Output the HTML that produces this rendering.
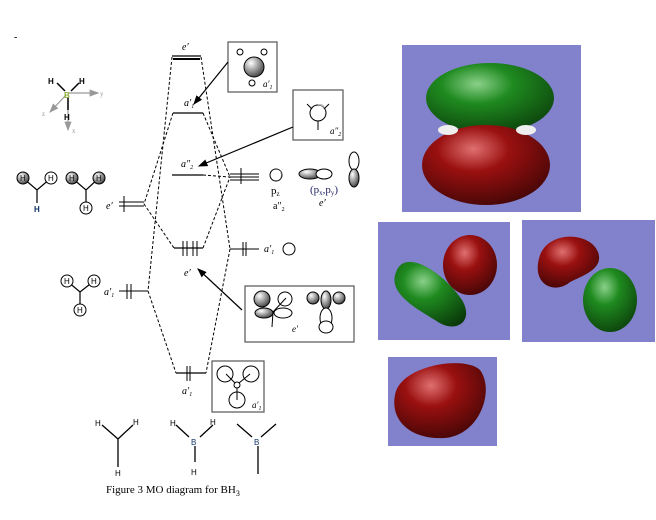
<!DOCTYPE html>
<html><head><style>
body{margin:0;background:#fff;}
svg{display:block;font-family:"Liberation Serif",serif;}
.s{font-family:"Liberation Sans",sans-serif;font-weight:bold;}
</style></head><body>
<svg width="656" height="520" viewBox="0 0 656 520" xmlns="http://www.w3.org/2000/svg">
<defs>
<radialGradient id="gr" cx="0.4" cy="0.3" r="0.8"><stop offset="0" stop-color="#8ad08a"/><stop offset="0.35" stop-color="#1f8a1f"/><stop offset="1" stop-color="#0a3a0a"/></radialGradient>
<radialGradient id="rd" cx="0.4" cy="0.3" r="0.8"><stop offset="0" stop-color="#e07070"/><stop offset="0.35" stop-color="#9a1010"/><stop offset="1" stop-color="#3a0505"/></radialGradient>
<radialGradient id="gy" cx="0.35" cy="0.3" r="0.8"><stop offset="0" stop-color="#fff"/><stop offset="0.5" stop-color="#999"/><stop offset="1" stop-color="#333"/></radialGradient>
<marker id="ar" markerWidth="8" markerHeight="6" refX="7" refY="3" orient="auto"><path d="M0,0L8,3L0,6z" fill="#000"/></marker>
<marker id="ag" markerWidth="8" markerHeight="6" refX="7" refY="3" orient="auto"><path d="M0,0L8,3L0,6z" fill="#999"/></marker>
</defs>
<text x="14" y="40" font-size="10">-</text>
<!-- axis molecule -->
<g stroke="#999" stroke-width="1.2" fill="none">
<line x1="68" y1="93" x2="98" y2="93" marker-end="url(#ag)"/>
<line x1="66" y1="95" x2="50" y2="112" marker-end="url(#ag)"/>
<line x1="68" y1="100" x2="68" y2="130" marker-end="url(#ag)"/>
</g>
<g stroke="#000" stroke-width="1.5"><line x1="57" y1="83" x2="65" y2="91"/><line x1="79" y1="83" x2="71" y2="91"/><line x1="68" y1="97" x2="68" y2="110"/></g>
<g class="s" font-size="8"><text x="48" y="84">H</text><text x="79" y="84">H</text><text x="64" y="98" fill="#8a3">B</text><text x="64" y="120">H</text></g>
<g font-size="7" fill="#999"><text x="100" y="96">y</text><text x="42" y="116">z</text><text x="72" y="133">x</text></g>
<!-- levels -->
<g stroke="#000" fill="none">
<line x1="172" y1="56" x2="201" y2="56" stroke-width="1.2"/><line x1="173" y1="59" x2="200" y2="59" stroke-width="2"/>
<line x1="173" y1="113" x2="203" y2="113" stroke-width="1.3"/>
<line x1="172" y1="175" x2="203" y2="175" stroke-width="1.3"/>
<line x1="174" y1="248" x2="203" y2="248" stroke-width="1.3"/>
<line x1="176" y1="373" x2="206" y2="373" stroke-width="1.3"/>
<line x1="230" y1="174" x2="259" y2="174"/><line x1="230" y1="177" x2="259" y2="177"/><line x1="230" y1="180" x2="259" y2="180"/>
<line x1="230" y1="249" x2="259" y2="249"/>
<line x1="119" y1="202" x2="144" y2="202"/><line x1="119" y1="206" x2="144" y2="206"/>
<line x1="119" y1="291" x2="148" y2="291"/>
<!-- electrons -->
<line x1="124" y1="196" x2="124" y2="212"/><line x1="183" y1="241" x2="183" y2="256"/><line x1="187" y1="241" x2="187" y2="256"/><line x1="193" y1="241" x2="193" y2="256"/><line x1="197" y1="241" x2="197" y2="256"/>
<line x1="127" y1="284" x2="127" y2="299"/><line x1="131" y1="284" x2="131" y2="299"/>
<line x1="187" y1="366" x2="187" y2="381"/><line x1="190" y1="366" x2="190" y2="381"/>
<line x1="243" y1="242" x2="243" y2="256"/><line x1="246" y1="242" x2="246" y2="256"/>
<line x1="241" y1="168" x2="241" y2="184"/>
</g>
<!-- dashed -->
<g stroke="#000" stroke-dasharray="3,2" fill="none">
<line x1="172" y1="57" x2="148" y2="291"/><line x1="173" y1="113" x2="144" y2="204"/>
<line x1="144" y1="204" x2="174" y2="248"/><line x1="148" y1="291" x2="176" y2="373"/>
<line x1="201" y1="57" x2="230" y2="249"/><line x1="203" y1="113" x2="230" y2="177"/>
<line x1="203" y1="175" x2="230" y2="177"/><line x1="203" y1="248" x2="230" y2="177"/>
<line x1="230" y1="249" x2="206" y2="373"/>
</g>
<!-- labels -->
<g font-size="10" font-style="italic">
<text x="182" y="50">e′</text><text x="184" y="106">a′<tspan font-size="6" dy="2">1</tspan></text>
<text x="181" y="167">a″<tspan font-size="6" dy="2">2</tspan></text>
<text x="184" y="276">e′</text><text x="182" y="394">a′<tspan font-size="6" dy="2">1</tspan></text>
<text x="106" y="209">e′</text><text x="104" y="295">a′<tspan font-size="6" dy="2">1</tspan></text>
<text x="264" y="252">a′<tspan font-size="6" dy="2">1</tspan></text>
<text x="273" y="209" font-style="normal">a″<tspan font-size="6" dy="2">2</tspan></text>
<text x="319" y="206">e′</text>
</g>
<text x="271" y="194" font-size="11">p<tspan font-size="7" dy="2">z</tspan></text>
<text x="310" y="193" font-size="11" fill="#226">(p<tspan font-size="7" dy="2">x</tspan><tspan dy="-2">,p</tspan><tspan font-size="7" dy="2">y</tspan><tspan dy="-2">)</tspan></text>
<!-- B orbitals -->
<circle cx="289" cy="249" r="6" fill="none" stroke="#000"/>
<circle cx="276" cy="175" r="6" fill="#fff" stroke="#000"/><path d="M276,169 a6,6 0 0,1 6,6 a6,6 0 0,1 -5,6 a4,6 0 0,0 0,-12z" fill="url(#gy)"/>
<ellipse cx="310" cy="174" rx="11" ry="5" fill="url(#gy)" stroke="#000"/><ellipse cx="324" cy="174" rx="8" ry="5" fill="#fff" stroke="#000"/>
<ellipse cx="354" cy="161" rx="5" ry="9" fill="#fff" stroke="#000"/><ellipse cx="354" cy="178" rx="5" ry="9" fill="url(#gy)" stroke="#000"/>
<!-- H3 fragments -->
<g stroke="#000" stroke-width="1.2" fill="none">
<path d="M23,178 L37,190 L51,178 M37,190 V203"/><path d="M72,178 L86,190 L99,178 M86,190 V205"/>
<path d="M67,281 L80,292 L94,281 M80,292 V309"/>
</g>
<circle cx="23" cy="178" r="6" fill="url(#gy)" stroke="#000"/><circle cx="51" cy="178" r="6" fill="#fff" stroke="#000"/>
<circle cx="72" cy="178" r="6" fill="url(#gy)" stroke="#000"/><circle cx="99" cy="178" r="6" fill="url(#gy)" stroke="#000"/><circle cx="86" cy="208" r="6" fill="#fff" stroke="#000"/>
<circle cx="67" cy="281" r="6" fill="#fff" stroke="#000"/><circle cx="94" cy="281" r="6" fill="#fff" stroke="#000"/><circle cx="80" cy="310" r="6" fill="#fff" stroke="#000"/>
<g font-family="Liberation Sans,sans-serif" font-size="8"><text x="20" y="181">H</text><text x="48" y="181">H</text><text x="69" y="181">H</text><text x="96" y="181">H</text><text x="83" y="211">H</text><text x="34" y="212" fill="#136" font-weight="bold">H</text>
<text x="64" y="284">H</text><text x="91" y="284">H</text><text x="77" y="313">H</text></g>
<!-- boxes -->
<g fill="#fff" stroke="#555" stroke-width="1.2">
<rect x="228" y="42" width="49" height="50"/><rect x="293" y="90" width="50" height="50"/>
<rect x="245" y="286" width="109" height="56"/><rect x="212" y="361" width="52" height="51"/>
</g>
<circle cx="254" cy="67" r="10" fill="url(#gy)" stroke="#000"/>
<circle cx="240" cy="52" r="3" fill="#fff" stroke="#000"/><circle cx="264" cy="52" r="3" fill="#fff" stroke="#000"/><circle cx="252" cy="83" r="3" fill="#fff" stroke="#000"/>
<text x="263" y="87" font-size="9" font-style="italic">a′<tspan font-size="6" dy="2">1</tspan></text>
<circle cx="318" cy="113" r="8" fill="#fff" stroke="#000"/><path d="M318,105 a8,8 0 0,1 5,14 a5,8 0 0,0 -5,-14z" fill="url(#gy)"/>
<g stroke="#000"><line x1="307" y1="104" x2="312" y2="109"/><line x1="329" y1="104" x2="324" y2="109"/><line x1="318" y1="121" x2="318" y2="130"/></g>
<text x="330" y="134" font-size="9" font-style="italic">a″<tspan font-size="6" dy="2">2</tspan></text>
<!-- e' box -->
<circle cx="262" cy="299" r="8" fill="url(#gy)" stroke="#000"/><circle cx="285" cy="299" r="7" fill="#fff" stroke="#000"/>
<ellipse cx="264" cy="313" rx="9" ry="5" fill="url(#gy)" stroke="#000"/><ellipse cx="283" cy="313" rx="9" ry="5" fill="#fff" stroke="#000"/>
<line x1="273" y1="312" x2="272" y2="327" stroke="#000"/><line x1="273" y1="312" x2="286" y2="298" stroke="#000"/>
<text x="292" y="332" font-size="9" font-style="italic">e′</text>
<circle cx="313" cy="298" r="6" fill="url(#gy)" stroke="#000"/><circle cx="339" cy="298" r="6" fill="url(#gy)" stroke="#000"/>
<ellipse cx="326" cy="300" rx="5" ry="9" fill="url(#gy)" stroke="#000"/>
<ellipse cx="326" cy="318" rx="6" ry="10" fill="#fff" stroke="#000"/><ellipse cx="326" cy="327" rx="7" ry="6" fill="#fff" stroke="#000"/>
<!-- a1' bottom box -->
<g fill="none" stroke="#000"><circle cx="225" cy="374" r="8"/><circle cx="251" cy="374" r="8"/><circle cx="237" cy="400" r="8"/><circle cx="237" cy="385" r="3"/>
<line x1="226" y1="374" x2="235" y2="383"/><line x1="250" y1="374" x2="239" y2="383"/><line x1="237" y1="388" x2="237" y2="400"/></g>
<text x="252" y="408" font-size="9" font-style="italic">a′<tspan font-size="6" dy="2">1</tspan></text>
<!-- arrows -->
<g stroke="#000" stroke-width="1.2">
<line x1="228" y1="62" x2="194" y2="104" marker-end="url(#ar)"/>
<line x1="293" y1="127" x2="199" y2="166" marker-end="url(#ar)"/>
<line x1="242" y1="310" x2="198" y2="269" marker-end="url(#ar)"/>
</g>
<!-- bottom structures -->
<g stroke="#000" stroke-width="1.3" fill="none">
<path d="M102,425 L118,439 L133,425 M118,439 V467"/>
<path d="M176,425 L189,437 M200,437 L213,425 M195,446 V462"/>
<path d="M237,424 L252,437 M261,437 L276,424 M258,446 V474"/>
</g>
<g font-family="Liberation Sans,sans-serif" font-size="8"><text x="95" y="426">H</text><text x="133" y="425">H</text><text x="115" y="476">H</text>
<text x="170" y="426">H</text><text x="210" y="425">H</text><text x="191" y="475">H</text>
<text x="191" y="445" fill="#136">B</text><text x="254" y="445" fill="#136">B</text></g>
<text x="106" y="493" font-size="11">Figure 3 MO diagram for BH<tspan font-size="8" dy="3">3</tspan></text>
<!-- right panels -->
<rect x="402" y="45" width="179" height="167" fill="#8281cc"/>
<ellipse cx="490" cy="98" rx="64" ry="35" fill="url(#gr)"/>
<ellipse cx="486" cy="165" rx="64" ry="40" fill="url(#rd)"/>
<ellipse cx="448" cy="130" rx="10" ry="5" fill="#eee"/><ellipse cx="526" cy="130" rx="10" ry="5" fill="#eee"/>
<rect x="378" y="222" width="132" height="118" fill="#8281cc"/>
<path d="M398,268 C410,250 445,275 462,300 C475,322 455,335 435,320 C410,305 385,290 398,268z" fill="url(#gr)"/>
<ellipse cx="470" cy="265" rx="27" ry="30" fill="url(#rd)"/>
<rect x="522" y="220" width="133" height="122" fill="#8281cc"/>
<path d="M540,255 C550,230 590,232 598,252 C604,268 585,275 570,282 C555,295 530,285 540,255z" fill="url(#rd)"/>
<ellipse cx="610" cy="300" rx="27" ry="32" fill="url(#gr)"/>
<rect x="388" y="357" width="109" height="89" fill="#8281cc"/>
<path d="M395,395 C400,365 465,355 480,370 C495,390 480,435 445,438 C410,440 390,420 395,395z" fill="url(#rd)"/>
</svg>
</body></html>
